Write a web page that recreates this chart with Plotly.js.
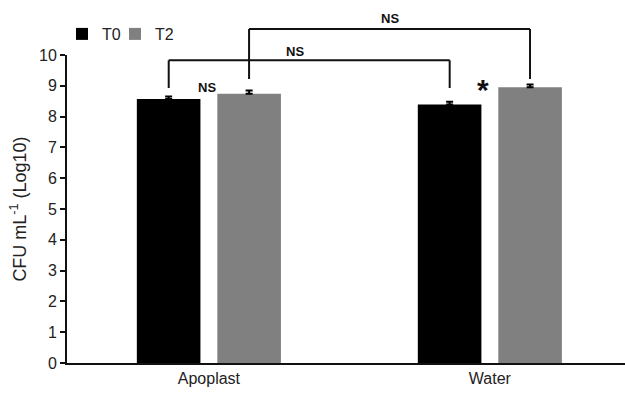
<!DOCTYPE html>
<html>
<head>
<meta charset="utf-8">
<script src="https://cdn.plot.ly/plotly-3.0.1.min.js"></script>
<style>html,body{margin:0;padding:0;background:#fff;}#chart{width:625px;height:394px;}</style>
</head>
<body>
<div id="chart"></div>
<script>
// ---- data ----
const categories = ["Apoplast", "Water"];
const seriesNames = ["T0", "T2"];
const t0Values = [8.57, 8.39];
const t0Errors = [0.08, 0.09];
const t2Values = [8.74, 8.95];
const t2Errors = [0.11, 0.09];
const yTicks = [0, 1, 2, 3, 4, 5, 6, 7, 8, 9, 10];

// ---- layout helpers ----
const barOffset = 0.143;           // centre of each bar in a group (category units)
const plotLeft = 67, plotRight = 625;
const plotTop = 55, plotBottom = 363;
const py = p => (plotBottom - p) / (plotBottom - plotTop); // pixel row -> paper y
const px = p => (p - plotLeft) / (plotRight - plotLeft);   // pixel col -> paper x

const traces = [
  {
    type: "bar", name: seriesNames[0], x: categories, y: t0Values, legend: "legend",
    marker: {color: "#000000", line: {width: 0}},
    error_y: {type: "data", array: t0Errors, arrayminus: [0, 0], symmetric: false,
              color: "#000000", thickness: 2, width: 3.5}
  },
  {
    type: "bar", name: seriesNames[1], x: categories, y: t2Values, legend: "legend2",
    marker: {color: "#808080", line: {width: 0}},
    error_y: {type: "data", array: t2Errors, arrayminus: [0, 0], symmetric: false,
              color: "#000000", thickness: 2, width: 3.5}
  }
];

const line = {color: "#111111", width: 2};
function bracket(x0, x1, yTop, yBot0, yBot1) {
  return [
    {type: "line", xref: "x", yref: "paper", x0: x0, x1: x1, y0: yTop, y1: yTop, line: line},
    {type: "line", xref: "x", yref: "paper", x0: x0, x1: x0, y0: yTop, y1: yBot0, line: line},
    {type: "line", xref: "x", yref: "paper", x0: x1, x1: x1, y0: yTop, y1: yBot1, line: line}
  ];
}

const shapes = [].concat(
  bracket(0 - barOffset, 1 - barOffset, py(60.3), py(88), py(88)),
  bracket(0 + barOffset, 1 + barOffset, py(29), py(79), py(79))
);

const nsFont = {family: "Liberation Sans, Arial, sans-serif", size: 13, color: "#111"};
const annotations = [
  {x: -0.007, y: py(87), xref: "x", yref: "paper", text: "<b>NS</b>", showarrow: false, font: nsFont, xanchor: "center", yanchor: "middle"},
  {x: 0.306, y: py(51.7), xref: "x", yref: "paper", text: "<b>NS</b>", showarrow: false, font: nsFont, xanchor: "center", yanchor: "middle"},
  {x: 0.644, y: py(18.3), xref: "x", yref: "paper", text: "<b>NS</b>", showarrow: false, font: nsFont, xanchor: "center", yanchor: "middle"},
  {x: 0.975, y: py(89), xref: "x", yref: "paper", text: "<b>*</b>", showarrow: false,
   font: {family: "Liberation Sans, Arial, sans-serif", size: 30, color: "#111"}, xanchor: "center", yanchor: "middle"}
];

const legendCommon = {orientation: "h", yanchor: "middle", xanchor: "left", y: py(34),
  font: {size: 16, color: "#222"}, itemwidth: 30, bgcolor: "rgba(0,0,0,0)", borderwidth: 0};

const layout = {
  width: 625, height: 394,
  margin: {l: plotLeft, r: 625 - plotRight, t: plotTop, b: 394 - plotBottom, pad: 0},
  paper_bgcolor: "#ffffff", plot_bgcolor: "#ffffff",
  font: {family: "Liberation Sans, Arial, sans-serif", size: 16, color: "#222"},
  barmode: "group", bargap: 0.427, bargroupgap: 0.21,
  showlegend: true,
  legend: Object.assign({}, legendCommon, {x: px(62)}),
  legend2: Object.assign({}, legendCommon, {x: px(115)}),
  xaxis: {
    type: "category", range: [-0.505, 1.481], showline: true, linecolor: "#111", linewidth: 2,
    ticks: "", showgrid: false, zeroline: false, tickfont: {size: 16, color: "#222"}
  },
  yaxis: {
    range: [0, 10], tickvals: yTicks, ticktext: yTicks.map(String),
    showline: true, linecolor: "#111", linewidth: 2, ticks: "outside", ticklen: 5, tickwidth: 2, tickcolor: "#111",
    showgrid: false, zeroline: false, tickfont: {size: 16, color: "#222"},
    title: {text: "CFU mL<sup>-1</sup> (Log10)", font: {size: 18, color: "#222"}, standoff: 8}
  },
  shapes: shapes,
  annotations: annotations
};

Plotly.newPlot("chart", traces, layout, {displayModeBar: false, staticPlot: true});
</script>
</body>
</html>
